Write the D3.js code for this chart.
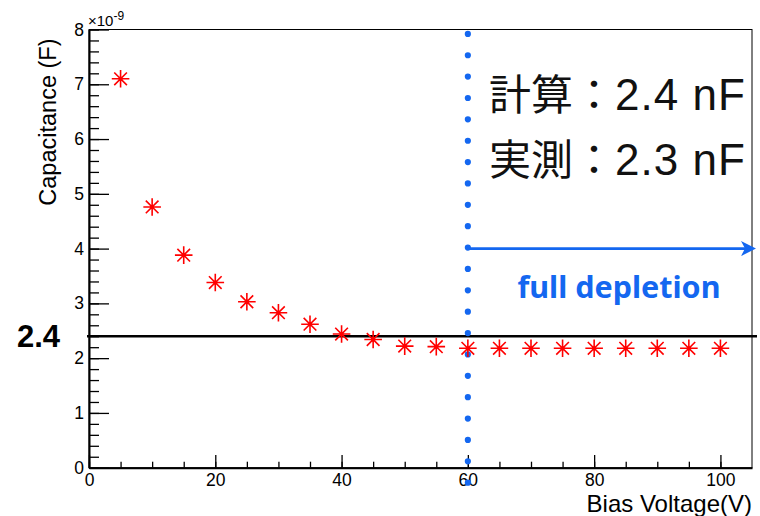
<!DOCTYPE html>
<html lang="ja">
<head>
    <meta charset="utf-8">
    <title>Capacitance vs Bias Voltage</title>
    <script src="https://cdn.jsdelivr.net/npm/d3@7"></script>
    <style>
        body { margin: 0; background: #fff; }
    </style>
</head>
<body>
    <div id="chart"></div>
    <script>
        // データ (容量は 10^-9 F 単位)
        var voltages = [5, 10, 15, 20, 25, 30, 35, 40, 45, 50, 55, 60, 65, 70, 75, 80, 85, 90, 95, 100];
        var capacitance = [7.10, 4.76, 3.88, 3.38, 3.03, 2.83, 2.62, 2.44, 2.34, 2.22, 2.21, 2.18, 2.18, 2.18, 2.18, 2.18, 2.18, 2.18, 2.18, 2.18];
        var xMajorTicks = [0, 20, 40, 60, 80, 100];
        var yMajorTicks = [0, 1, 2, 3, 4, 5, 6, 7, 8];
        var noteNames = ["計算", "実測"];
        var noteValues = [2.4, 2.3];
        var calcValue = 2.4, depletionV = 60, arrowLevel = 4;
        var labels = {x: "Bias Voltage(V)", y: "Capacitance (F)", dep: "full depletion"};

        var W = 760, H = 516, blue = "#1467f0",
            helv = "'Liberation Sans', Arial, Helvetica, sans-serif",
            margin = {top: 29.5, right: 8, bottom: 48.3, left: 89};

        var svg = d3.select("#chart").append("svg").attr("width", W).attr("height", H)
            .style("font-family", helv);
        var x = d3.scaleLinear().domain([0, 105]).range([margin.left, W - margin.right]);
        var y = d3.scaleLinear().domain([0, 8]).range([H - margin.bottom, margin.top]);

        // フレーム
        svg.append("rect").attr("x", x(0)).attr("y", y(8)).attr("width", x(105) - x(0)).attr("height", y(0) - y(8))
            .attr("fill", "none").attr("stroke", "#000").attr("stroke-width", 1);

        // 副目盛り
        svg.append("g").attr("transform", "translate(" + x(0) + ",0)")
            .call(d3.axisLeft(y).tickValues(d3.range(0, 8.01, 0.2)).tickSizeInner(-10).tickSizeOuter(0).tickFormat(""))
            .call(function (g) { g.select(".domain").remove(); });
        svg.append("g").attr("transform", "translate(0," + y(0) + ")")
            .call(d3.axisBottom(x).tickValues(d3.range(0, 105, 5)).tickSizeInner(-6).tickSizeOuter(0).tickFormat(""))
            .call(function (g) { g.select(".domain").remove(); });

        // 主目盛り
        var yAxis = svg.append("g").attr("transform", "translate(" + x(0) + ",0)")
            .call(d3.axisLeft(y).tickValues(yMajorTicks).tickSizeInner(-20).tickSizeOuter(0).tickPadding(5).tickFormat(d3.format("d")));
        var xAxis = svg.append("g").attr("transform", "translate(0," + y(0) + ")")
            .call(d3.axisBottom(x).tickValues(xMajorTicks).tickSizeInner(-12.7).tickSizeOuter(0).tickPadding(6).tickFormat(d3.format("d")));
        [xAxis, yAxis].forEach(function (g) {
            g.select(".domain").attr("stroke-width", 2);
            g.selectAll("text").attr("font-size", 17.5).style("font-family", helv).attr("fill", "#000");
        });
        svg.selectAll(".tick line").attr("stroke-width", 1.3);

        // 軸タイトル
        svg.append("text").attr("transform", "translate(56," + (y(8) + 9) + ") rotate(-90)")
            .attr("text-anchor", "end").attr("font-size", 23.5).text(labels.y);
        svg.append("text").attr("x", x(105)).attr("y", 511.5).attr("text-anchor", "end")
            .attr("font-size", 24).text(labels.x);
        var expo = svg.append("text").attr("x", x(0) - 1).attr("y", 26).attr("font-size", 15).text("×10");
        expo.append("tspan").attr("dy", -6).attr("font-size", 12).text("-9");

        // 計算値の水平線
        svg.append("line").attr("x1", x(0) - 2).attr("x2", W - 3).attr("y1", y(calcValue)).attr("y2", y(calcValue))
            .attr("stroke", "#000").attr("stroke-width", 2.7);
        svg.append("text").attr("x", 17).attr("y", y(calcValue) + 10.5).attr("font-size", 31).attr("font-weight", "bold")
            .text(d3.format(".1f")(calcValue));

        // 全空乏の点線と矢印
        svg.append("line").attr("x1", x(depletionV)).attr("x2", x(depletionV))
            .attr("y1", y(7.92)).attr("y2", y(-0.28))
            .attr("stroke", blue).attr("stroke-width", 6.2).attr("stroke-linecap", "round")
            .attr("stroke-dasharray", "0 21.37");
        var ax = x(105) + 4, ay = y(arrowLevel);
        svg.append("line").attr("x1", x(depletionV)).attr("x2", ax - 8).attr("y1", ay).attr("y2", ay)
            .attr("stroke", blue).attr("stroke-width", 2.6);
        svg.append("path").attr("d", "M" + ax + "," + ay + "L" + (ax - 15) + "," + (ay - 7.5) + "L" + (ax - 11) + "," + ay
            + "L" + (ax - 15) + "," + (ay + 7.5) + "Z").attr("fill", blue);
        svg.append("text").attr("x", 619).attr("y", 297.5).attr("text-anchor", "middle")
            .style("font-family", "'Noto Sans', sans-serif").attr("font-weight", "bold").attr("font-size", 30.5)
            .attr("fill", blue).text(labels.dep);

        // 注釈 (計算 / 実測)
        var notes = svg.selectAll(".note").data(noteNames).enter().append("text").attr("class", "note")
            .attr("x", 489).attr("y", function (d, i) { return 110 + i * 65; })
            .attr("fill", "#111");
        notes.append("tspan").style("font-family", "'Noto Sans CJK JP', sans-serif").attr("font-size", 42)
            .text(function (d) { return d + "："; });
        notes.append("tspan").style("font-family", helv).attr("font-size", 44).attr("letter-spacing", 1)
            .text(function (d, i) { return noteValues[i].toFixed(1) + " nF"; });

        // データ点 (アスタリスク)
        var pts = svg.selectAll(".pt").data(voltages).enter().append("g").attr("class", "pt")
            .attr("transform", function (d, i) { return "translate(" + x(d) + "," + y(capacitance[i]) + ")"; })
            .attr("stroke", "#ff0000").attr("stroke-width", 1.6);
        var r = 8.8, q = r * 0.72;
        pts.append("path").attr("d", "M" + -r + ",0H" + r + "M0," + -r + "V" + r
            + "M" + -q + "," + -q + "L" + q + "," + q + "M" + -q + "," + q + "L" + q + "," + -q);
        pts.append("circle").attr("r", 1.9).attr("fill", "#ff0000").attr("stroke", "none");
    </script>
</body>
</html>
